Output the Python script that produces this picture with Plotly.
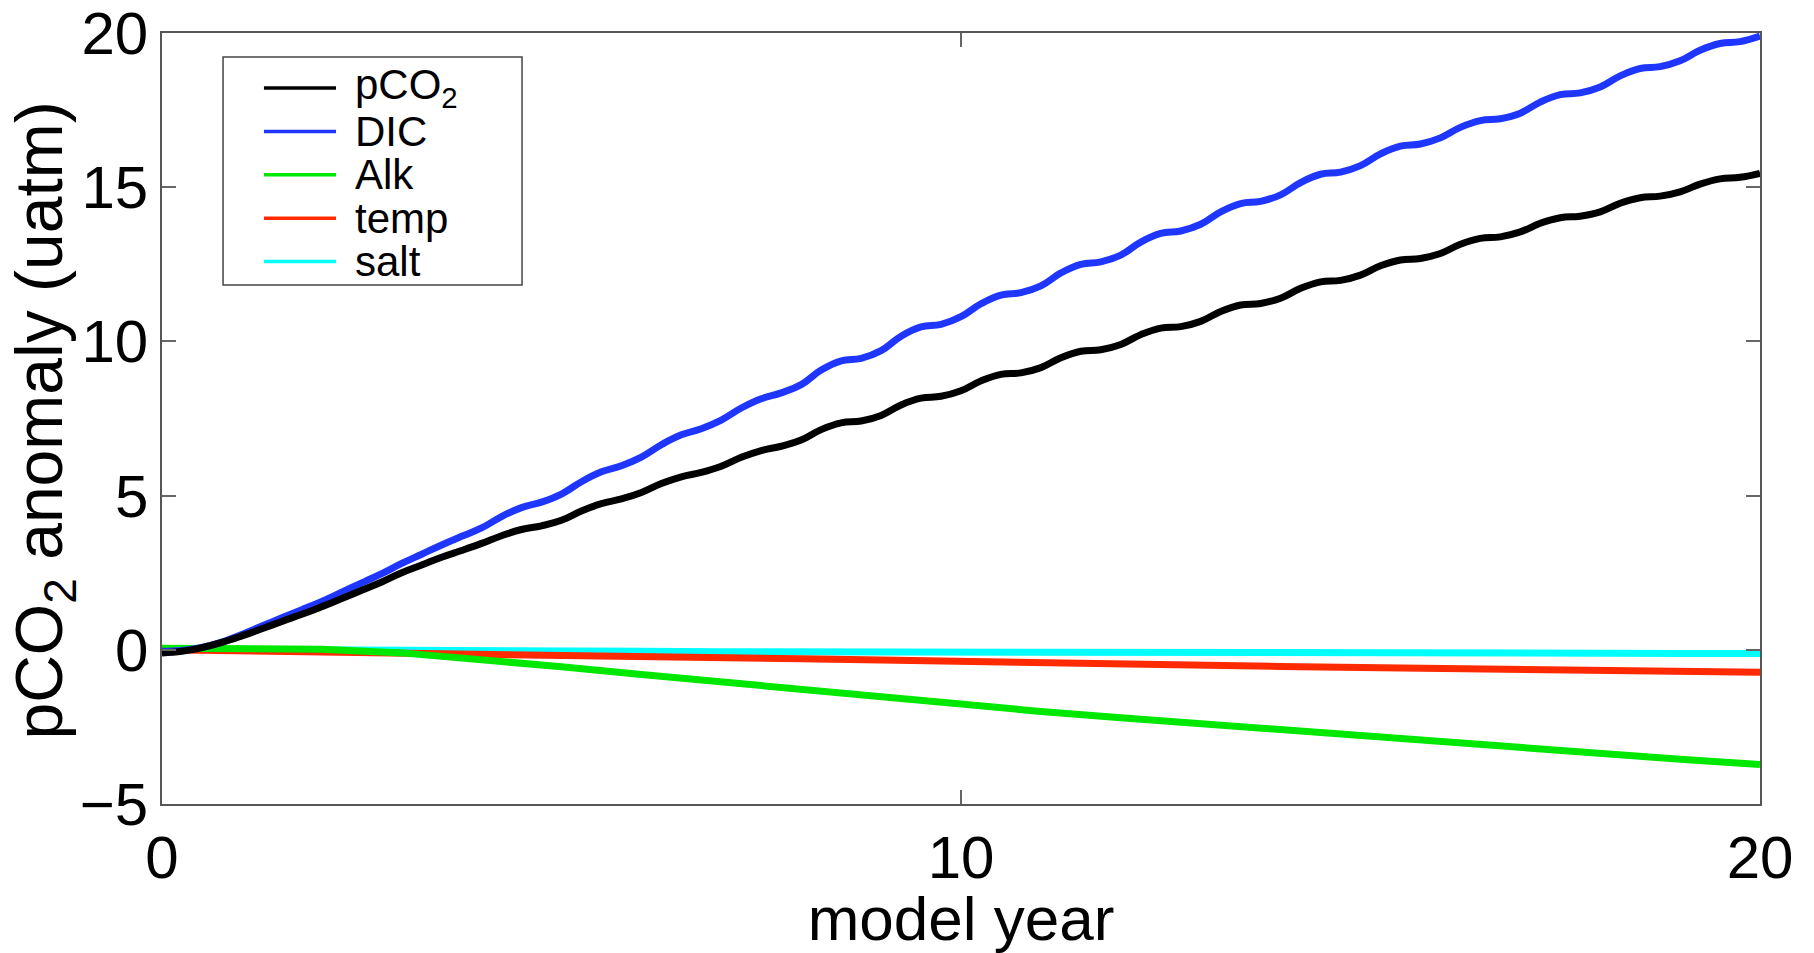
import plotly.graph_objects as go

# time axis: quarter-year samples for the pCO2 / DIC curves, yearly for the others
model_year_q = [i * 0.25 for i in range(81)]
model_year = list(range(21))

pco2 = [-0.1, -0.05, 0.07, 0.24,
        0.45, 0.68, 0.92, 1.15,
        1.4, 1.66, 1.93, 2.2,
        2.5, 2.75, 3.0, 3.22,
        3.45, 3.70, 3.90, 4.02,
        4.2, 4.50, 4.74, 4.89,
        5.1, 5.39, 5.61, 5.75,
        5.95, 6.24, 6.46, 6.60,
        6.8, 7.14, 7.36, 7.42,
        7.6, 7.94, 8.16, 8.22,
        8.4, 8.72, 8.93, 8.98,
        9.15, 9.47, 9.68, 9.73,
        9.9, 10.22, 10.43, 10.48,
        10.65, 10.97, 11.18, 11.23,
        11.4, 11.72, 11.93, 11.98,
        12.15, 12.45, 12.64, 12.69,
        12.85, 13.15, 13.34, 13.39,
        13.55, 13.83, 14.01, 14.06,
        14.2, 14.48, 14.66, 14.71,
        14.85, 15.10, 15.27, 15.32,
        15.45]

dic = [-0.05, -0.02, 0.08, 0.25,
       0.5, 0.77, 1.04, 1.3,
       1.57, 1.87, 2.17, 2.47,
       2.8, 3.1, 3.4, 3.68,
       3.95, 4.32, 4.61, 4.79,
       5.05, 5.45, 5.77, 5.97,
       6.25, 6.65, 6.97, 7.17,
       7.45, 7.84, 8.14, 8.33,
       8.6, 9.07, 9.37, 9.45,
       9.7, 10.17, 10.47, 10.55,
       10.8, 11.22, 11.50, 11.58,
       11.8, 12.22, 12.50, 12.58,
       12.8, 13.22, 13.50, 13.58,
       13.8, 14.20, 14.47, 14.54,
       14.75, 15.15, 15.42, 15.49,
       15.7, 16.08, 16.33, 16.40,
       16.6, 16.94, 17.16, 17.22,
       17.4, 17.76, 18.00, 18.06,
       18.25, 18.61, 18.85, 18.91,
       19.1, 19.44, 19.66, 19.72,
       19.9]

alk = [0.05, 0.05, 0.02, -0.1, -0.3, -0.55, -0.8, -1.05, -1.3, -1.55, -1.8,
       -2.0, -2.2, -2.4, -2.58, -2.75, -2.95, -3.15, -3.35, -3.55, -3.72]
temp = [0.0, -0.03, -0.06, -0.1, -0.13, -0.17, -0.21, -0.25, -0.29, -0.33, -0.38,
        -0.42, -0.46, -0.5, -0.54, -0.57, -0.6, -0.63, -0.66, -0.7, -0.73]
salt = [0.02, 0.0, -0.02, -0.03, -0.04, -0.05, -0.05, -0.06, -0.06, -0.07, -0.07,
        -0.08, -0.08, -0.09, -0.09, -0.1, -0.1, -0.11, -0.11, -0.12, -0.12]

x_ticks = [0, 10, 20]
y_ticks = [-5, 0, 5, 10, 15, 20]

series_names = ["pCO<sub>2</sub>", "DIC", "Alk", "temp", "salt"]
series_colors = ["#000000", "#1f36ff", "#00e800", "#ff2a00", "#00ffff"]
series_x = [model_year_q, model_year_q, model_year, model_year, model_year]
series_y = [pco2, dic, alk, temp, salt]

LW = 7
fig = go.Figure()
# draw bottom-to-top (salt first, pCO2 last) so black sits on top as in the reference
for i in reversed(range(len(series_names))):
    smooth = series_x[i] is model_year_q
    fig.add_trace(go.Scatter(
        x=series_x[i], y=series_y[i], name=series_names[i], mode="lines",
        line=dict(color=series_colors[i], width=LW,
                  shape="spline" if smooth else "linear",
                  **({"smoothing": 1.2} if smooth else {})),
        showlegend=False))

# MATLAB-style legend box (tight rows, large text)
box_x0, box_x1, box_y0, box_y1 = 0.0382, 0.2253, 0.6732, 0.9689
row_top, row_step = 0.9287, 0.0563
sw_x0, sw_x1, txt_x = 0.0638, 0.1089, 0.1195
fig.add_shape(type="rect", xref="paper", yref="paper",
              x0=box_x0, x1=box_x1, y0=box_y0, y1=box_y1,
              line=dict(color="#444444", width=1.5), fillcolor="white", layer="above")
for i, (nm, col) in enumerate(zip(series_names, series_colors)):
    ry = row_top - i * row_step
    fig.add_shape(type="line", xref="paper", yref="paper",
                  x0=sw_x0, x1=sw_x1, y0=ry, y1=ry,
                  line=dict(color=col, width=3.5), layer="above")
    fig.add_annotation(xref="paper", yref="paper", x=txt_x, y=ry,
                       xanchor="left", yanchor="middle", showarrow=False,
                       text=nm, font=dict(size=42, color="black"))

# y-axis title placed like MATLAB (close to the tick-label column)
fig.add_annotation(xref="paper", yref="paper", x=-0.074, y=0.497,
                   xanchor="center", yanchor="middle", showarrow=False,
                   textangle=-90, text="pCO<sub>2</sub> anomaly (uatm)",
                   font=dict(size=66, color="black"))

axis_common = dict(
    ticks="inside", ticklen=14, tickwidth=1.5, tickcolor="#666666",
    showline=True, linecolor="#555555", linewidth=1.5, mirror="ticks",
    showgrid=False, zeroline=False, automargin=False,
    tickfont=dict(size=60, color="black"),
)

fig.update_layout(
    width=1814, height=953,
    margin=dict(l=162, r=54, t=33, b=149),
    plot_bgcolor="white", paper_bgcolor="white",
    font=dict(family="Liberation Sans, Arial, Helvetica, sans-serif", color="black"),
    showlegend=False,
    xaxis=dict(range=[0, 20], tickvals=x_ticks,
               title=dict(text="model year", font=dict(size=62), standoff=2),
               **axis_common),
    yaxis=dict(range=[-5, 20], tickvals=y_ticks, **axis_common),
)

fig.write_html("out.html")
